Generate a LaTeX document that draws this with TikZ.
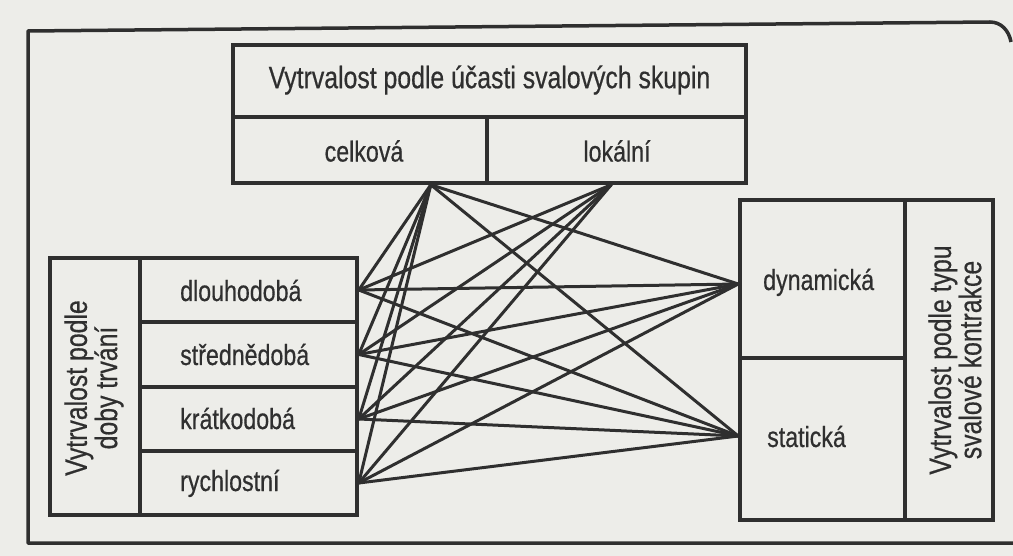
\documentclass[tikz,border=0pt]{standalone}
\usepackage{fontspec}
\newfontfamily\cond{Liberation Sans}[FakeStretch=0.8,FakeBold=0.5]
\usetikzlibrary{calc}
\definecolor{ink}{HTML}{2F2F2F}
\definecolor{paper}{HTML}{EDEDE9}
\tikzset{
  cell/.style={draw=ink, line width=3.5pt, inner sep=0pt},
  conn/.style={draw=ink, line width=3pt, line cap=round},
  frame/.style={draw=ink, line width=3.5pt, line join=round},
  txt/.style={text=ink, inner sep=0pt, font=\cond\fontsize{29}{31}\selectfont},
  ttxt/.style={text=ink, inner sep=0pt, font=\cond\fontsize{31}{33}\selectfont},
  rtxt/.style={text=ink, inner sep=0pt, rotate=90, align=center, font=\cond\fontsize{31}{29}\selectfont},
}
\begin{document}
\begin{tikzpicture}[x=1pt,y=-1pt]
\useasboundingbox (0,0) rectangle (1013,556);
\fill[paper] (0,0) rectangle (1013,556);
% outer frame
\draw[frame] (1013,543) -- (28,543) -- (28,31) -- (990,22) to[out=0,in=100] (1011,42);
% top box
\node[cell, minimum width=513pt, minimum height=72pt] (title) at (489.5,81) {};
\node[ttxt] (titletxt) at (489.5,80) {Vytrvalost podle účasti svalových skupin};
\node[cell, minimum width=254pt, minimum height=66pt] (celk) at (360,150) {};
\node[txt] (celktxt) at (364,151) {celková};
\node[cell, minimum width=259pt, minimum height=66pt] (lok) at (616.5,150) {};
\node[txt] (loktxt) at (617,151) {lokální};
% left box
\node[cell, minimum width=90pt, minimum height=257pt] (dlabel) at (95,386.5) {};
\node[rtxt] (dlabeltxt) at (94,388) {Vytrvalost podle\\doby trvání};
\node[cell, minimum width=217pt, minimum height=64pt] (dl) at (248.5,290) {};
\node[cell, minimum width=217pt, minimum height=65pt] (sd) at (248.5,354.5) {};
\node[cell, minimum width=217pt, minimum height=64pt] (kd) at (248.5,419) {};
\node[cell, minimum width=217pt, minimum height=64pt] (rc) at (248.5,483) {};
\node[txt, anchor=base west] (dltxt) at (180,301) {dlouhodobá};
\node[txt, anchor=base west] (sdtxt) at (180,365) {střednědobá};
\node[txt, anchor=base west] (kdtxt) at (180,429) {krátkodobá};
\node[txt, anchor=base west] (rctxt) at (180,491) {rychlostní};
% right box
\node[cell, minimum width=165pt, minimum height=158pt] (dyn) at (822.5,279) {};
\node[cell, minimum width=165pt, minimum height=162pt] (stat) at (822.5,439) {};
\node[cell, minimum width=88pt, minimum height=320pt] (klabel) at (949,360) {};
\node[txt, anchor=base west] (dyntxt) at (763,290) {dynamická};
\node[txt, anchor=base west] (stattxt) at (767,447) {statická};
\node[rtxt] (klabeltxt) at (955,360) {Vytrvalost podle typu\\svalové kontrakce};
% convergence points
\coordinate (cP) at ($(celk.south west)!0.775!(celk.south east)$);
\coordinate (lP) at ($(lok.south west)!0.48!(lok.south east)$);
\coordinate (dP) at ([yshift=-5pt]dyn.west);
\coordinate (sP) at ([yshift=3pt]stat.west);
\coordinate (dlP) at (dl.east);
\coordinate (sdP) at (sd.east);
\coordinate (kdP) at (kd.east);
\coordinate (rcP) at (rc.east);
% connectors
\foreach \a in {dlP,sdP,kdP,rcP}{
  \foreach \b in {cP,lP,dP,sP}{
    \draw[conn] (\a) -- (\b);
  }
}
\draw[conn] (cP) -- (dP);
\draw[conn] (cP) -- (sP);
\end{tikzpicture}
\end{document}
